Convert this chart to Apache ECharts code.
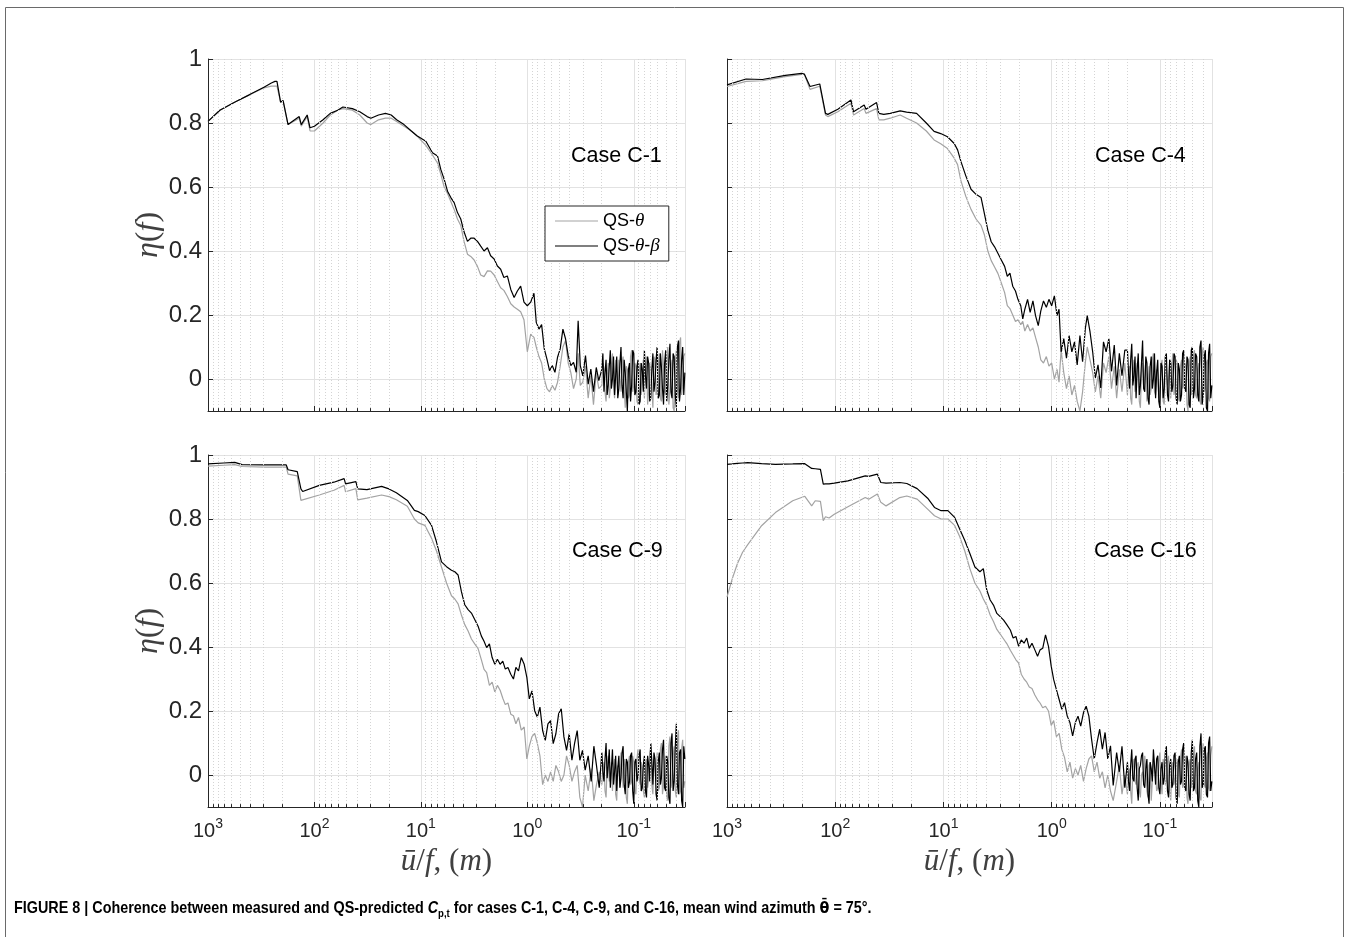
<!DOCTYPE html>
<html><head><meta charset="utf-8">
<script src="https://cdn.jsdelivr.net/npm/echarts@6/dist/echarts.min.js"></script>
<style>html,body{margin:0;padding:0;background:#fff}#chart{width:1350px;height:937px}</style>
</head><body><div id="chart"></div>
<script>
// ---------------- DATA ----------------
// x = u/f in metres, y = coherence eta(f)
const X_C1 = [1000, 774, 563, 410, 298, 254, 235, 225, 208, 197, 177, 139, 133, 117, 110, 106, 100, 83, 71, 60.5, 54, 44, 37.5, 32, 29.5, 25, 21.5, 19, 16.9, 14.4, 12.3, 10.9,
  8.98, 7.78, 6.98, 6.5, 6.04, 5.62, 5.23, 4.87, 4.53, 4.22, 3.93, 3.65, 3.40, 3.16, 2.94, 2.74, 2.55, 2.37, 2.21, 2.05, 1.91, 1.78, 1.66, 1.54, 1.43, 1.33, 1.24, 1.155, 1.075, 1.0, 0.93, 0.866, 0.824, 0.777, 0.734, 0.693, 0.654, 0.618, 0.583, 0.550, 0.520, 0.491, 0.463, 0.437, 0.413, 0.390, 0.368, 0.347, 0.333, 0.318, 0.301, 0.284, 0.268, 0.253, 0.239, 0.225, 0.213];
const C1_THETA_BETA = [0.805, 0.84, 0.865, 0.888, 0.912, 0.925, 0.93, 0.93, 0.865, 0.87, 0.795, 0.82, 0.795, 0.825, 0.785, 0.78, 0.79, 0.81, 0.83, 0.84, 0.85, 0.845, 0.835, 0.82, 0.815, 0.825, 0.83, 0.825, 0.81, 0.795, 0.775, 0.76,
  0.743, 0.707, 0.697, 0.655, 0.624, 0.587, 0.567, 0.551, 0.52, 0.50, 0.46, 0.43, 0.44, 0.44, 0.43, 0.415, 0.40, 0.41, 0.385, 0.375, 0.353, 0.343, 0.317, 0.322, 0.28, 0.255, 0.275, 0.29, 0.24, 0.229, 0.24, 0.268, 0.177, 0.156, 0.17, 0.094, 0.062, 0.026, 0.042, 0.021, 0.068, 0.094, 0.156, 0.125, 0.073, 0.042, 0.052, 0.021, 0.182, 0.042, 0.01, 0.073, -0.016, 0.031, -0.04, 0.036, -0.005];
const C1_THETA = [0.805, 0.84, 0.865, 0.888, 0.91, 0.915, 0.915, 0.915, 0.865, 0.87, 0.795, 0.815, 0.79, 0.82, 0.775, 0.77, 0.775, 0.80, 0.825, 0.84, 0.845, 0.84, 0.825, 0.80, 0.795, 0.81, 0.815, 0.815, 0.805, 0.79, 0.775, 0.76,
  0.73, 0.70, 0.675, 0.64, 0.60, 0.58, 0.555, 0.53, 0.50, 0.48, 0.43, 0.39, 0.383, 0.372, 0.352, 0.325, 0.32, 0.338, 0.337, 0.325, 0.305, 0.285, 0.277, 0.258, 0.235, 0.225, 0.218, 0.21, 0.185, 0.085, 0.14, 0.13, 0.10, 0.07, 0.05, 0.00, -0.03, -0.04, -0.02, -0.035, -0.01, 0.04, 0.10, 0.12, 0.05, 0.02, -0.03, 0.00, 0.08, -0.02, -0.01, 0.04, -0.06, 0.01, -0.08, 0.02, -0.03];

const X_C4 = [1000, 667, 471, 289, 204, 193, 171, 165, 139, 123, 117, 94.6, 71.6, 67.7, 54, 52, 41.5, 39.5, 35.6, 31, 25.1, 21.9, 17.7, 14.4,
  12.2, 10.6, 9.18, 7.95, 7.4, 6.9, 6.2, 5.56, 5.0, 4.49, 4.18, 3.89, 3.62, 3.37, 3.14, 2.92, 2.72, 2.57, 2.43, 2.29, 2.16, 2.05, 1.93, 1.85, 1.77, 1.67, 1.58, 1.49, 1.41, 1.33, 1.26, 1.19, 1.12, 1.06, 1.0, 0.944, 0.892, 0.855, 0.818, 0.773, 0.730, 0.69, 0.651, 0.615, 0.581, 0.548, 0.518, 0.489, 0.469, 0.442, 0.418, 0.395, 0.373, 0.352, 0.332, 0.314, 0.296, 0.28, 0.264, 0.251, 0.237, 0.224, 0.211];
const C4_THETA_BETA = [0.919, 0.9375, 0.936, 0.949, 0.955, 0.953, 0.914, 0.912, 0.922, 0.83, 0.827, 0.843, 0.872, 0.835, 0.856, 0.843, 0.864, 0.83, 0.827, 0.83, 0.838, 0.834, 0.83, 0.80,
  0.774, 0.767, 0.757, 0.736, 0.716, 0.68, 0.634, 0.593, 0.577, 0.567, 0.516, 0.465, 0.429, 0.413, 0.393, 0.372, 0.352, 0.321, 0.331, 0.29, 0.275, 0.249, 0.229, 0.188, 0.218, 0.249, 0.208, 0.244, 0.198, 0.167, 0.213, 0.244, 0.224, 0.249, 0.229, 0.26, 0.198, 0.218, 0.085, 0.126, 0.065, 0.136, 0.085, 0.116, 0.044, 0.136, 0.054, 0.157, 0.198, 0.147, 0.085, 0.003, 0.044, -0.028, 0.116, 0.085, 0.126, 0.024, 0.106, -0.02, 0.08, 0.01, 0.09];
const C4_THETA = [0.914, 0.93, 0.932, 0.945, 0.952, 0.952, 0.905, 0.903, 0.915, 0.825, 0.82, 0.835, 0.862, 0.825, 0.845, 0.83, 0.845, 0.81, 0.81, 0.815, 0.825, 0.815, 0.80, 0.775,
  0.747, 0.735, 0.72, 0.69, 0.67, 0.62, 0.57, 0.53, 0.50, 0.48, 0.45, 0.40, 0.37, 0.35, 0.33, 0.30, 0.27, 0.229, 0.22, 0.20, 0.18, 0.185, 0.17, 0.18, 0.15, 0.17, 0.15, 0.16, 0.13, 0.10, 0.06, 0.05, 0.07, 0.04, 0.05, 0.00, 0.03, -0.01, 0.09, 0.02, -0.03, 0.01, -0.05, -0.02, -0.07, -0.10, -0.04, 0.05, 0.10, 0.06, 0.02, -0.04, 0.01, -0.06, 0.05, 0.02, 0.07, -0.03, 0.04, -0.06, 0.03, -0.04, 0.05];

const X_C9 = [1000, 711, 560, 478, 296, 184, 177, 145, 134, 129, 90, 65.6, 52.6, 51, 40.8, 39.2, 32.1, 23.4, 19.95, 17.0, 13.4, 11.5,
  10.6, 9.17, 7.94, 7.13, 6.4, 5.74, 5.16, 4.8, 4.47, 4.16, 3.87, 3.6, 3.35, 3.12, 2.9, 2.7, 2.55, 2.41, 2.27, 2.14, 2.02, 1.91, 1.80, 1.70, 1.61, 1.52, 1.43, 1.35, 1.28, 1.21, 1.14, 1.07, 1.01, 0.958, 0.904, 0.853, 0.806, 0.761, 0.718, 0.678, 0.64, 0.604, 0.571, 0.539, 0.508, 0.48, 0.453, 0.428, 0.404, 0.381, 0.36, 0.34, 0.321, 0.303, 0.286, 0.268, 0.251, 0.237, 0.224, 0.211];
const C9_THETA_BETA = [0.972, 0.975, 0.977, 0.97, 0.969, 0.969, 0.954, 0.948, 0.894, 0.886, 0.905, 0.915, 0.926, 0.91, 0.917, 0.894, 0.892, 0.902, 0.894, 0.882, 0.858, 0.827,
  0.823, 0.811, 0.78, 0.728, 0.666, 0.651, 0.64, 0.635, 0.625, 0.573, 0.532, 0.517, 0.506, 0.486, 0.465, 0.434, 0.418, 0.398, 0.41, 0.367, 0.346, 0.362, 0.346, 0.356, 0.331, 0.336, 0.315, 0.30, 0.336, 0.325, 0.367, 0.346, 0.305, 0.238, 0.263, 0.201, 0.181, 0.212, 0.139, 0.108, 0.16, 0.17, 0.098, 0.129, 0.191, 0.207, 0.119, 0.077, 0.129, 0.046, 0.098, 0.139, 0.046, 0.077, 0.015, 0.06, -0.02, 0.09, 0.03, -0.04];
const C9_THETA = [0.965, 0.968, 0.97, 0.964, 0.962, 0.962, 0.94, 0.935, 0.858, 0.855, 0.875, 0.89, 0.905, 0.885, 0.895, 0.86, 0.865, 0.875, 0.87, 0.86, 0.84, 0.80,
  0.788, 0.78, 0.74, 0.70, 0.65, 0.60, 0.56, 0.55, 0.535, 0.50, 0.47, 0.45, 0.425, 0.41, 0.395, 0.36, 0.33, 0.32, 0.28, 0.29, 0.26, 0.28, 0.265, 0.24, 0.22, 0.225, 0.19, 0.185, 0.16, 0.18, 0.14, 0.15, 0.05, 0.09, 0.12, 0.13, 0.10, 0.06, -0.03, 0.00, -0.02, 0.01, -0.02, 0.03, 0.01, -0.02, 0.00, 0.06, 0.03, -0.02, 0.01, 0.03, -0.07, -0.1, 0.00, -0.05, 0.02, -0.08, -0.03, 0.01];

const X_C16 = [1000, 895, 802, 718, 643, 479, 357, 247, 191, 184, 165, 153, 137, 129, 123, 114, 102, 76.3, 52.8, 49, 40.8, 37.9, 33.9, 25.3, 21.8, 17.5, 14.0,
  12.1, 10.5, 9.1, 7.88, 7.08, 6.35, 5.7, 5.12, 4.6, 4.28, 3.98, 3.7, 3.45, 3.21, 2.99, 2.78, 2.59, 2.41, 2.27, 2.14, 2.02, 1.91, 1.80, 1.70, 1.61, 1.52, 1.43, 1.35, 1.28, 1.21, 1.14, 1.07, 1.01, 0.958, 0.904, 0.853, 0.806, 0.761, 0.718, 0.678, 0.64, 0.604, 0.571, 0.539, 0.508, 0.48, 0.453, 0.428, 0.404, 0.381, 0.36, 0.34, 0.321, 0.303, 0.286, 0.27, 0.251, 0.237, 0.224, 0.211];
const C16_THETA_BETA = [0.971, 0.972, 0.974, 0.975, 0.976, 0.973, 0.971, 0.972, 0.973, 0.972, 0.958, 0.957, 0.955, 0.909, 0.91, 0.91, 0.912, 0.919, 0.935, 0.933, 0.94, 0.914, 0.912, 0.914, 0.911, 0.895, 0.865,
  0.836, 0.826, 0.826, 0.805, 0.769, 0.733, 0.692, 0.65, 0.635, 0.645, 0.578, 0.547, 0.531, 0.505, 0.495, 0.484, 0.469, 0.453, 0.428, 0.433, 0.402, 0.422, 0.412, 0.428, 0.396, 0.412, 0.391, 0.371, 0.391, 0.396, 0.438, 0.402, 0.34, 0.298, 0.267, 0.236, 0.205, 0.226, 0.184, 0.164, 0.122, 0.164, 0.184, 0.153, 0.195, 0.215, 0.184, 0.112, 0.05, 0.101, 0.143, 0.081, 0.133, 0.05, 0.091, -0.033, 0.07, 0.01, 0.09, -0.04];
const C16_THETA = [0.556, 0.613, 0.66, 0.696, 0.72, 0.779, 0.82, 0.857, 0.871, 0.865, 0.841, 0.857, 0.855, 0.795, 0.807, 0.803, 0.815, 0.838, 0.867, 0.862, 0.878, 0.852, 0.841, 0.867, 0.872, 0.862, 0.831,
  0.81, 0.80, 0.80, 0.78, 0.745, 0.70, 0.645, 0.60, 0.575, 0.55, 0.53, 0.50, 0.48, 0.455, 0.44, 0.425, 0.41, 0.39, 0.375, 0.36, 0.35, 0.315, 0.30, 0.29, 0.275, 0.27, 0.25, 0.235, 0.225, 0.21, 0.215, 0.20, 0.155, 0.17, 0.12, 0.13, 0.08, 0.055, 0.01, 0.04, -0.01, 0.02, 0.00, 0.03, -0.02, 0.02, 0.05, 0.06, 0.01, 0.04, -0.01, 0.01, -0.04, 0.00, -0.05, -0.08, -0.02, 0.03, -0.06, 0.00];

// high-frequency noisy tail (shared frequency grid, 0.2 m down to 0.033 m)
const TAIL_X = [0.1995, 0.1950, 0.1905, 0.1862, 0.1820, 0.1778, 0.1738, 0.1698, 0.1660, 0.1622,
  0.1585, 0.1549, 0.1514, 0.1479, 0.1445, 0.1413, 0.1380, 0.1349, 0.1318, 0.1288,
  0.1259, 0.1230, 0.1202, 0.1175, 0.1148, 0.1122, 0.1096, 0.1072, 0.1047, 0.1023,
  0.1000, 0.0977, 0.0955, 0.0933, 0.0912, 0.0891, 0.0871, 0.0851, 0.0832, 0.0813,
  0.0794, 0.0776, 0.0759, 0.0741, 0.0724, 0.0708, 0.0692, 0.0676, 0.0661, 0.0646,
  0.0631, 0.0617, 0.0603, 0.0589, 0.0575, 0.0562, 0.0550, 0.0537, 0.0525, 0.0513,
  0.0501, 0.0490, 0.0479, 0.0468, 0.0457, 0.0447, 0.0437, 0.0427, 0.0417, 0.0407,
  0.0398, 0.0389, 0.0380, 0.0372, 0.0363, 0.0355, 0.0347, 0.0339, 0.0331];
const C1_TAIL_THETA_BETA = [0.03, 0.08, -0.04, 0.02, 0.06, -0.05, -0.02, 0.04, 0.09, -0.03,
  0.00, 0.07, -0.05, 0.01, 0.07, -0.06, -0.03, 0.05, 0.10, -0.02,
  -0.06, 0.06, 0.02, -0.04, -0.10, 0.03, 0.05, -0.07, -0.02, 0.09,
  0.08, -0.05, -0.04, 0.04, 0.06, -0.08, -0.07, 0.05, 0.03, -0.04,
  0.09, 0.01, -0.03, 0.07, 0.05, -0.07, -0.06, 0.03, 0.08, -0.04,
  -0.01, 0.06, 0.10, -0.06, -0.05, 0.08, 0.04, -0.03, -0.08, 0.05,
  0.09, -0.07, -0.02, 0.06, 0.11, -0.04, -0.06, 0.08, 0.07, -0.05,
  -0.09, 0.10, 0.12, -0.07, -0.03, 0.06, 0.10, -0.05, 0.02];
const C1_TAIL_THETA = [-0.02, 0.05, 0.03, -0.04, -0.07, 0.01, 0.05, -0.06, -0.03, 0.04,
  0.08, -0.02, -0.06, 0.06, 0.02, -0.05, 0.06, 0.00, -0.04, 0.05,
  0.07, -0.03, -0.09, 0.04, 0.03, -0.06, -0.05, 0.07, 0.09, -0.04,
  -0.02, 0.05, 0.04, -0.07, -0.08, 0.02, 0.05, -0.05, 0.00, 0.06,
  -0.06, 0.03, 0.07, -0.08, -0.04, 0.05, 0.03, -0.02, -0.09, 0.07,
  0.06, -0.05, -0.03, 0.04, 0.08, -0.06, -0.07, 0.09, 0.04, -0.04,
  -0.05, 0.06, 0.10, -0.08, -0.04, 0.03, 0.06, -0.09, -0.10, 0.05,
  0.09, -0.03, -0.06, 0.11, 0.13, -0.05, -0.02, 0.07, 0.08];
const C4_TAIL_THETA_BETA = [0.09, 0.02, -0.03, 0.06, 0.11, -0.02, 0.01, 0.07, -0.06, 0.03,
  0.08, -0.05, -0.02, 0.05, 0.12, -0.03, -0.04, 0.07, 0.05, -0.06,
  -0.08, 0.04, 0.07, -0.03, 0.00, 0.08, -0.06, 0.02, 0.06, -0.07,
  -0.09, 0.05, 0.04, -0.06, -0.03, 0.07, 0.08, -0.05, -0.07, 0.06,
  0.05, -0.04, -0.02, 0.08, 0.07, -0.06, -0.08, 0.05, 0.03, -0.07,
  -0.05, 0.08, 0.09, -0.03, -0.04, 0.07, 0.06, -0.08, -0.09, 0.09,
  0.10, -0.06, -0.03, 0.08, 0.07, -0.05, -0.07, 0.10, 0.12, -0.08,
  -0.05, 0.07, 0.09, -0.09, -0.10, 0.08, 0.11, -0.06, -0.02];
const C4_TAIL_THETA = [-0.05, 0.02, 0.04, -0.06, -0.08, 0.03, 0.06, -0.04, -0.02, 0.05,
  0.03, -0.07, -0.09, 0.02, 0.05, -0.03, 0.01, 0.06, -0.07, -0.02,
  0.04, -0.05, -0.03, 0.06, 0.08, -0.04, -0.05, 0.03, 0.02, -0.06,
  -0.02, 0.04, 0.06, -0.07, -0.08, 0.05, 0.03, -0.02, 0.00, 0.05,
  -0.06, 0.04, 0.08, -0.05, -0.03, 0.06, 0.05, -0.06, -0.07, 0.04,
  0.06, -0.03, -0.02, 0.05, 0.04, -0.08, -0.10, 0.04, 0.07, -0.05,
  -0.04, 0.07, 0.09, -0.05, -0.06, 0.03, 0.05, -0.07, -0.08, 0.08,
  0.10, -0.04, -0.03, 0.05, 0.06, -0.06, -0.07, 0.07, 0.08];
const C9_TAIL_THETA_BETA = [0.07, 0.01, -0.02, 0.05, 0.10, -0.01, 0.03, 0.08, -0.04, 0.02,
  0.08, -0.03, 0.01, 0.06, -0.05, 0.02, 0.06, -0.04, -0.01, 0.07,
  0.09, -0.03, -0.06, 0.05, 0.04, -0.04, -0.02, 0.06, 0.07, -0.05,
  -0.09, 0.04, 0.05, -0.02, 0.00, 0.06, 0.08, -0.05, -0.04, 0.03,
  0.06, -0.05, -0.07, 0.06, 0.03, -0.02, 0.10, 0.04, -0.03, 0.07,
  0.05, -0.06, -0.08, 0.04, 0.07, -0.03, -0.01, 0.08, 0.11, -0.04,
  -0.05, 0.06, 0.04, -0.07, -0.09, 0.10, 0.13, -0.05, -0.02, 0.09,
  0.16, -0.03, -0.06, 0.07, 0.08, -0.08, -0.10, 0.09, 0.05];
const C9_TAIL_THETA = [-0.03, 0.02, 0.04, -0.05, -0.07, 0.03, 0.06, -0.02, 0.00, 0.04,
  -0.05, 0.01, 0.05, -0.06, -0.08, 0.03, 0.02, -0.04, 0.07, 0.03,
  -0.04, 0.05, 0.03, -0.07, -0.09, 0.04, 0.06, -0.03, -0.02, 0.06,
  0.04, -0.05, -0.06, 0.05, 0.08, -0.01, -0.03, 0.04, 0.02, -0.05,
  -0.07, 0.03, 0.05, -0.04, -0.01, 0.07, 0.09, -0.03, -0.06, 0.05,
  0.03, -0.02, 0.07, -0.05, -0.04, 0.08, 0.10, -0.06, -0.03, 0.04,
  0.06, -0.07, -0.08, 0.09, 0.12, -0.04, -0.02, 0.06, 0.09, -0.05,
  -0.07, 0.10, 0.14, -0.06, -0.05, 0.08, 0.11, -0.04, -0.02];
const C16_TAIL_THETA_BETA = [0.04, -0.02, -0.05, 0.03, 0.08, -0.01, -0.02, 0.05, 0.06, -0.04,
  -0.08, 0.02, 0.03, 0.06, 0.07, -0.03, -0.04, 0.02, 0.05, -0.06,
  -0.09, 0.04, 0.02, -0.02, 0.08, 0.03, -0.03, 0.05, 0.06, -0.04,
  -0.06, 0.02, 0.04, -0.03, -0.01, 0.07, 0.09, -0.05, -0.07, 0.03,
  0.05, -0.04, -0.03, 0.06, 0.07, -0.07, -0.09, 0.04, 0.06, -0.03,
  -0.02, 0.08, 0.10, -0.04, -0.05, 0.06, 0.04, -0.06, -0.08, 0.07,
  0.11, -0.05, -0.04, 0.05, 0.07, -0.08, -0.10, 0.09, 0.13, -0.04,
  -0.03, 0.08, 0.09, -0.06, -0.07, 0.10, 0.12, -0.05, -0.02];
const C16_TAIL_THETA = [-0.06, 0.00, 0.02, -0.05, -0.09, 0.02, 0.05, -0.02, -0.03, 0.03,
  0.04, -0.05, -0.07, 0.00, 0.01, -0.03, 0.06, 0.02, -0.05, -0.07,
  0.03, 0.04, -0.08, -0.02, 0.05, 0.02, 0.00, -0.05, -0.04, 0.04,
  0.07, -0.02, -0.06, 0.05, 0.03, -0.03, -0.02, 0.04, 0.06, -0.05,
  -0.08, 0.02, 0.04, -0.03, -0.01, 0.03, 0.05, -0.06, -0.07, 0.05,
  0.08, -0.04, -0.03, 0.04, 0.06, -0.07, -0.09, 0.03, 0.05, -0.04,
  -0.02, 0.06, 0.09, -0.05, -0.06, 0.02, 0.04, -0.07, -0.08, 0.07,
  0.10, -0.03, -0.04, 0.05, 0.07, -0.04, -0.05, 0.06, 0.09];

const CASE_LABELS = ['Case C-1', 'Case C-4', 'Case C-9', 'Case C-16'];
const SERIES_NAMES = ['QS-θ', 'QS-θ-β'];
const X_MIN = 0.033, X_MAX = 1000, Y_MIN = -0.1, Y_MAX = 1;
const MINOR_X = [900, 800, 700, 600, 500, 400, 300, 200, 90, 80, 70, 60, 50, 40, 30, 20, 9, 8, 7, 6, 5, 4, 3, 2, 0.9, 0.8, 0.7, 0.6, 0.5, 0.4, 0.3, 0.2, 0.09, 0.08, 0.07, 0.06, 0.05, 0.04];

// ---------------- BUILD ----------------
const panels = [
  { x: X_C1.concat(TAIL_X), th: C1_THETA.concat(C1_TAIL_THETA), tb: C1_THETA_BETA.concat(C1_TAIL_THETA_BETA) },
  { x: X_C4.concat(TAIL_X), th: C4_THETA.concat(C4_TAIL_THETA), tb: C4_THETA_BETA.concat(C4_TAIL_THETA_BETA) },
  { x: X_C9.concat(TAIL_X), th: C9_THETA.concat(C9_TAIL_THETA), tb: C9_THETA_BETA.concat(C9_TAIL_THETA_BETA) },
  { x: X_C16.concat(TAIL_X), th: C16_THETA.concat(C16_TAIL_THETA), tb: C16_THETA_BETA.concat(C16_TAIL_THETA_BETA) }
];
const zip = (xs, ys) => xs.map((x, i) => [x, ys[i]]);

const layout = [
  { left: 208, top: 59, width: 477, height: 352 },
  { left: 727, top: 59, width: 485, height: 352 },
  { left: 208, top: 455, width: 477, height: 352 },
  { left: 727, top: 455, width: 485, height: 352 }
];
const AX = '#262626';
const GRIDC = '#e2e2e2';
const SANS = '"Liberation Sans", Arial, sans-serif';
const SERIF = '"Liberation Serif", "DejaVu Serif", serif';

const grid = layout.map(l => Object.assign({ containLabel: false }, l));
const xAxis = layout.map((l, i) => ({
  type: 'log', logBase: 10, gridIndex: i, inverse: true, min: X_MIN, max: X_MAX,
  axisLine: { show: true, onZero: false, lineStyle: { color: AX, width: 1 } },
  axisTick: { show: true, inside: true, length: 5, lineStyle: { color: AX } },
  splitLine: { show: true, lineStyle: { color: GRIDC, width: 1 } },
  axisLabel: {
    show: i >= 2, margin: 10, color: AX, fontFamily: SANS, fontSize: 20, lineHeight: 28,
    formatter: v => { const e = Math.log10(v), r = Math.round(e); return Math.abs(e - r) < 1e-6 ? '10{sup|' + r + '}' : ''; },
    rich: { sup: { fontFamily: SANS, fontSize: 14, color: AX, verticalAlign: 'top', lineHeight: 14 } }
  },
  name: i >= 2 ? '{i|ū}/{i|f}, ({i|m})' : '', nameLocation: 'middle', nameGap: 38,
  nameTextStyle: { fontFamily: SERIF, fontSize: 31, color: '#404040',
    rich: { i: { fontFamily: SERIF, fontStyle: 'italic', fontSize: 31, color: '#404040' } } }
}));
const yAxis = layout.map((l, i) => ({
  type: 'value', gridIndex: i, min: Y_MIN, max: Y_MAX, splitNumber: 5,
  axisLine: { show: true, lineStyle: { color: AX, width: 1 } },
  axisTick: { show: true, inside: true, length: 5, lineStyle: { color: AX } },
  splitLine: { show: true, lineStyle: { color: GRIDC, width: 1 } },
  axisLabel: { show: i % 2 === 0, margin: 6, color: AX, fontFamily: SANS, fontSize: 24,
    formatter: v => v < -0.05 ? '' : String(Math.round(v * 10) / 10) },
  name: i % 2 === 0 ? '{i|η}({i|f})' : '', nameLocation: 'middle', nameRotate: 90, nameGap: 41,
  nameTextStyle: { fontFamily: SERIF, fontSize: 32, color: '#404040',
    rich: { i: { fontFamily: SERIF, fontStyle: 'italic', fontSize: 32, color: '#404040' } } }
}));

const series = [];
panels.forEach((p, i) => {
  series.push({
    type: 'line', xAxisIndex: i, yAxisIndex: i, data: [], silent: true, z: 1, animation: false,
    markLine: { silent: true, symbol: ['none', 'none'], label: { show: false }, animation: false,
      emphasis: { disabled: true },
      lineStyle: { color: '#d4d4d4', type: [1, 2], width: 1 },
      data: MINOR_X.map(v => ({ xAxis: v })) }
  });
  series.push({
    type: 'line', xAxisIndex: i, yAxisIndex: i, data: [], silent: true, z: 5, animation: false,
    markLine: { silent: true, symbol: ['none', 'none'], label: { show: false }, animation: false,
      emphasis: { disabled: true },
      lineStyle: { color: AX, type: 'solid', width: 1 },
      data: MINOR_X.map(v => [{ coord: [v, Y_MIN] }, { coord: [v, Y_MIN + 0.009] }]) }
  });
  series.push({
    type: 'line', name: SERIES_NAMES[0], xAxisIndex: i, yAxisIndex: i, data: zip(p.x, p.th),
    showSymbol: false, symbol: 'none', color: '#a3a3a3', lineStyle: { width: 1.2, color: '#a3a3a3' },
    z: 3, silent: true, animation: false, clip: true
  });
  series.push({
    type: 'line', name: SERIES_NAMES[1], xAxisIndex: i, yAxisIndex: i, data: zip(p.x, p.tb),
    showSymbol: false, symbol: 'none', color: '#000000', lineStyle: { width: 1.2, color: '#000000' },
    z: 4, silent: true, animation: false, clip: true
  });
});

const casePos = [[571, 145], [1095, 145], [572, 540], [1094, 540]];
const graphic = CASE_LABELS.map((t, i) => ({
  type: 'text', left: casePos[i][0], top: casePos[i][1], silent: true, z: 10,
  style: { text: t, font: '21.5px ' + SANS, fill: '#000' }
}));
graphic.push({ type: 'rect', silent: true, z: 0, shape: { x: 5.5, y: 7.5, width: 1338, height: 1000 },
  style: { fill: 'none', stroke: '#6a6a6a', lineWidth: 1 } });
graphic.push({ type: 'text', left: 14, top: 900, silent: true, z: 10, scaleX: 0.871, originX: 0, originY: 0,
  style: {
    text: 'FIGURE 8 | Coherence between measured and QS-predicted {it|C}{sub|p,t} for cases C-1, C-4, C-9, and C-16, mean wind azimuth {th|θ̄} = 75°.',
    font: 'bold 16.5px "Liberation Sans", Arial, sans-serif', fill: '#000',
    rich: {
      it: { font: 'italic bold 16.5px "Liberation Sans", sans-serif', fill: '#000', lineHeight: 21 },
      sub: { font: 'bold 11px "Liberation Sans", sans-serif', fill: '#000', verticalAlign: 'bottom', lineHeight: 13 },
      th: { font: 'bold 16.5px "DejaVu Sans", sans-serif', fill: '#000', lineHeight: 21 }
    }
  } });

const chart = echarts.init(document.getElementById('chart'), null, { renderer: 'canvas' });
chart.setOption({
  animation: false,
  backgroundColor: '#ffffff',
  grid, xAxis, yAxis, series, graphic,
  legend: {
    data: SERIES_NAMES, orient: 'vertical', left: 545, top: 206,
    itemWidth: 43, itemHeight: 1, itemGap: 5, icon: 'rect',
    padding: [5, 9, 5, 10], borderColor: AX, borderWidth: 1, backgroundColor: '#ffffff',
    selectedMode: false, z: 8,
    formatter: n => n === SERIES_NAMES[0] ? 'QS-{i|θ}' : 'QS-{i|θ}-{i|β}',
    textStyle: { fontFamily: SANS, fontSize: 18, color: '#000', lineHeight: 20,
      rich: { i: { fontFamily: SERIF, fontStyle: 'italic', fontSize: 19, color: '#000', lineHeight: 20 } } }
  }
});
</script></body></html>
